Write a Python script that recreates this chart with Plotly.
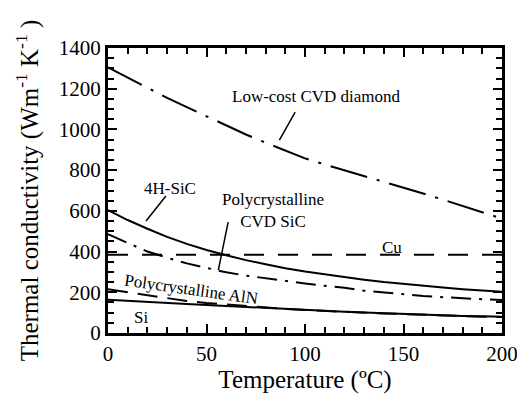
import plotly.graph_objects as go

temperature = [0, 10, 20, 30, 40, 50, 60, 70, 80, 90, 100, 110, 120, 130, 140, 150, 160, 170, 180, 190, 200]
diamond = [1305, 1255, 1205, 1155, 1110, 1065, 1020, 975, 935, 895, 858, 828, 800, 770, 742, 715, 685, 655, 625, 595, 562]
sic_4h = [604, 555, 512, 472, 438, 408, 382, 358, 338, 318, 302, 288, 275, 262, 250, 240, 231, 223, 215, 209, 203]
cvd_sic = [485, 444, 400, 370, 342, 320, 298, 282, 268, 255, 243, 232, 222, 208, 199, 191, 182, 176, 170, 166, 162]
cu = [385] * 21
aln = [215, 200, 184, 169, 157, 147, 139, 131, 124, 118, 113, 108, 104, 100, 96, 93, 89, 86, 83, 80, 78]
si = [163, 157, 152, 147, 142, 137, 132, 127, 122, 117, 113, 109, 105, 101, 97, 94, 90, 87, 84, 82, 80]

FONT = "Liberation Serif"

fig = go.Figure()
series = [
    ("Low-cost CVD diamond", diamond, "38px,10px,3px,10px"),
    ("4H-SiC", sic_4h, "solid"),
    ("Polycrystalline CVD SiC", cvd_sic, "20px,8px,3px,8px"),
    ("Cu", cu, "20px,14px"),
    ("Polycrystalline AlN", aln, "20px,10px"),
    ("Si", si, "solid"),
]
for name, ys, dash in series:
    fig.add_trace(go.Scatter(x=temperature, y=ys, mode="lines", name=name,
                             line=dict(color="black", width=2, dash=dash)))

annotations = [
    dict(x=106, y=1160, text="Low-cost CVD diamond", textangle=0),
    dict(x=31.5, y=712, text="4H-SiC", textangle=0),
    dict(x=84, y=600, text="Polycrystalline<br>CVD SiC", textangle=0),
    dict(x=144, y=422, text="Cu", textangle=0),
    dict(x=42.5, y=216, text="Polycrystalline AlN", textangle=8),
    dict(x=17, y=74, text="Si", textangle=0),
]
for a in annotations:
    fig.add_annotation(x=a["x"], y=a["y"], text=a["text"], textangle=a["textangle"],
                       showarrow=False, font=dict(family=FONT, size=17, color="black"))

# pointer lines
pointers = [
    ((95, 1085), (87, 948)),
    ((29.4, 673), (19.3, 550)),
    ((61, 545), (56, 309)),
]
for (x0, y0), (x1, y1) in pointers:
    fig.add_shape(type="line", x0=x0, y0=y0, x1=x1, y1=y1, xref="x", yref="y",
                  line=dict(color="black", width=1.5))

axis_common = dict(showline=True, linecolor="black", linewidth=3, mirror="allticks",
                   ticks="inside", tickcolor="black", tickwidth=2, ticklen=9,
                   showgrid=False, zeroline=False, automargin=False,
                   tickfont=dict(family=FONT, size=21, color="black"))

fig.update_xaxes(range=[0, 200], tickvals=[0, 50, 100, 150, 200],
                 minor=dict(dtick=10, ticks="inside", ticklen=6, tickwidth=2, tickcolor="black"),
                 title=dict(text="Temperature (ºC)", font=dict(family=FONT, size=25, color="black"), standoff=2),
                 **axis_common)
fig.update_yaxes(range=[0, 1400], tickvals=[0, 200, 400, 600, 800, 1000, 1200, 1400],
                 minor=dict(dtick=50, ticks="inside", ticklen=6, tickwidth=2, tickcolor="black"),
                 title=dict(text="Thermal conductivity (Wm<sup>-1</sup> K<sup>-1</sup> )",
                            font=dict(family=FONT, size=25, color="black"), standoff=14),
                 **axis_common)

# page body has an 8px default margin, so the figure is sized to fit the window
fig.update_layout(width=517, height=391, showlegend=False,
                  plot_bgcolor="white", paper_bgcolor="white",
                  margin=dict(l=100, r=23, t=40, b=66),
                  font=dict(family=FONT, color="black"))

fig.write_html("out.html")
